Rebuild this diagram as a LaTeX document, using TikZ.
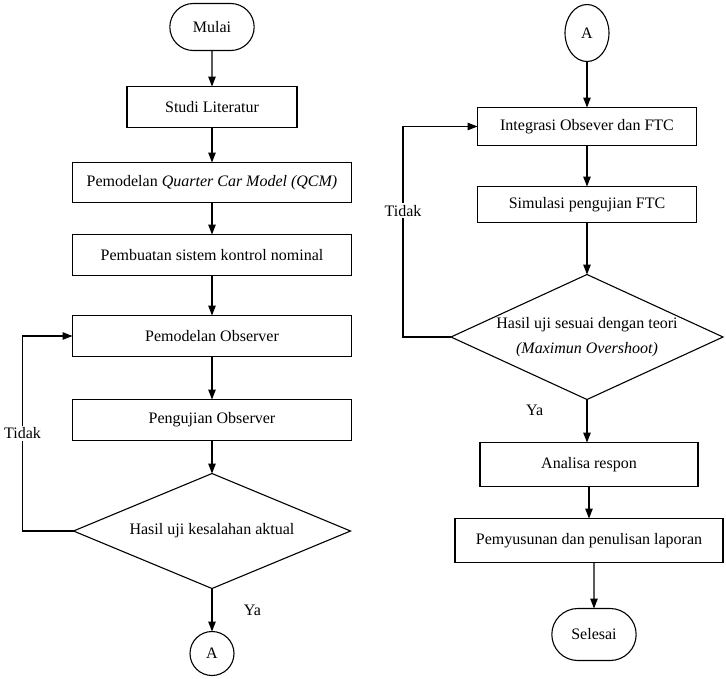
\documentclass[tikz,border=0pt]{standalone}
\usepackage{fontspec}
\setmainfont{Liberation Serif}
\usetikzlibrary{arrows.meta,positioning,shapes.geometric,shapes.misc}

\begin{document}
\begin{tikzpicture}[
    font=\fontsize{16pt}{25pt}\selectfont,
    box/.style={rectangle, draw, line width=1.1pt, outer sep=0pt, minimum height=41pt, align=center},
    term/.style={rounded rectangle, draw, line width=1.1pt, outer sep=0pt, minimum width=91pt, minimum height=47pt},
    decision/.style={diamond, draw, line width=1.1pt, outer sep=0pt, inner sep=0pt, align=center},
    connector/.style={ellipse, draw, line width=1.1pt, outer sep=0pt, inner sep=0pt, minimum width=44pt, minimum height=44pt},
    arrow/.style={-{Triangle[length=10pt, width=7.5pt]}, line width=1.1pt},
    answer/.style={fill=white, inner sep=2pt}
]
    \useasboundingbox (0,0) rectangle (726pt,-678pt);

    % Left column
    \node[term] (mulai) at (212pt,-27pt) {Mulai};
    \node[box, minimum width=170pt, below=36pt of mulai] (studi) {Studi Literatur};
    \node[box, minimum width=279pt, minimum height=40pt, below=35pt of studi] (qcm) {Pemodelan \textit{Quarter Car Model (QCM)}};
    \node[box, minimum width=279pt, below=32pt of qcm] (nominal) {Pembuatan sistem kontrol nominal};
    \node[box, minimum width=279pt, below=40pt of nominal] (obsmod) {Pemodelan Observer};
    \node[box, minimum width=279pt, below=43pt of obsmod] (obstest) {Pengujian Observer};

    % Decision observer
    \node[decision, aspect=2.4, minimum width=277pt, minimum height=115pt, below=33pt of obstest] (cek1) {Hasil uji kesalahan aktual};
    \node[connector, below=43pt of cek1] (keA) {A};
    \coordinate[left=51pt of cek1.west] (balik1);

    % Right column
    \node[connector, minimum height=57pt] (dariA) at (587pt,-33pt) {A};
    \node[box, minimum width=219pt, minimum height=38pt, below=46pt of dariA] (integ) {Integrasi Obsever dan FTC};
    \node[box, minimum width=219pt, minimum height=36pt, below=41pt of integ] (simul) {Simulasi pengujian FTC};

    % Decision FTC
    \node[decision, aspect=2.18, inner sep=-4pt, minimum width=272pt, minimum height=125pt, below=52pt of simul] (cek2) {Hasil uji sesuai dengan teori\\\textit{(Maximun Overshoot)}};
    \coordinate[left=48pt of cek2.west] (balik2);

    \node[box, minimum width=218pt, minimum height=44pt, below=43pt of cek2, xshift=2pt] (analisa) {Analisa respon};
    \node[box, minimum width=268pt, minimum height=44pt, below=32pt of analisa] (susun) {Pemyusunan dan penulisan laporan};
    \node[term, minimum height=52pt, below=46pt of susun, xshift=5pt] (selesai) {Selesai};

    % Arrows
    \draw[arrow] (mulai) -- (studi);
    \draw[arrow] (studi) -- (qcm);
    \draw[arrow] (qcm) -- (nominal);
    \draw[arrow] (nominal) -- (obsmod);
    \draw[arrow] (obsmod) -- (obstest);
    \draw[arrow] (obstest) -- (cek1);
    \draw[arrow] (cek1) -- node[right=28pt] {Ya} (keA);
    \draw[arrow] (cek1.west) -- (balik1) |- node[answer, pos=0.25] {Tidak} (obsmod.west);

    \draw[arrow] (dariA) -- (integ);
    \draw[arrow] (integ) -- (simul);
    \draw[arrow] (simul) -- (cek2);
    \draw[arrow] (cek2.south) -- node[pos=0.25, left=40pt] {Ya} (cek2.south |- analisa.north);
    \draw[arrow] (cek2.west) -- (balik2) |- node[answer, pos=0.3] {Tidak} (integ.west);
    \draw[arrow] (analisa) -- (susun);
    \draw[arrow] (susun.south -| selesai.north) -- (selesai);

\end{tikzpicture}
\end{document}
